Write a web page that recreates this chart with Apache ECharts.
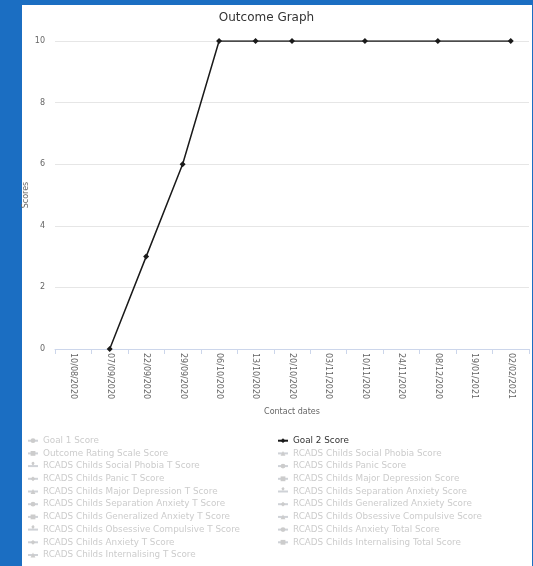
<!DOCTYPE html>
<html>
<head>
<meta charset="utf-8">
<script src="https://cdn.jsdelivr.net/npm/echarts@6/dist/echarts.min.js"></script>
<style>
    body { margin: 0; }
    #wrap { position: relative; width: 533px; height: 566px; background: #1b6ec2; overflow: hidden; }
    #inner { position: absolute; left: 22px; top: 5px; width: 510px; height: 561px; background: #fff; }
    #chart { position: absolute; left: 0; top: 0; width: 533px; height: 566px; }
</style>
</head>
<body>
<div id="wrap">
    <div id="inner"></div>
    <div id="chart"></div>
</div>
<script>
// 日期（类目轴）
const DATES = [
    "10/08/2020", "07/09/2020", "22/09/2020", "29/09/2020", "06/10/2020",
    "13/10/2020", "20/10/2020", "03/11/2020", "10/11/2020", "24/11/2020",
    "08/12/2020", "19/01/2021", "02/02/2021",
]
// 只有 Goal 2 Score 可见
const GOAL2 = [null, 0, 3, 6, 10, 10, 10, null, 10, null, 10, null, 10]
const Y_TICKS = [0, 2, 4, 6, 8, 10]

// 图例左列 / 右列
const LEFT_NAMES = [
    "Goal 1 Score",
    "Outcome Rating Scale Score",
    "RCADS Childs Social Phobia T Score",
    "RCADS Childs Panic T Score",
    "RCADS Childs Major Depression T Score",
    "RCADS Childs Separation Anxiety T Score",
    "RCADS Childs Generalized Anxiety T Score",
    "RCADS Childs Obsessive Compulsive T Score",
    "RCADS Childs Anxiety T Score",
    "RCADS Childs Internalising T Score",
]
const RIGHT_NAMES = [
    "Goal 2 Score",
    "RCADS Childs Social Phobia Score",
    "RCADS Childs Panic Score",
    "RCADS Childs Major Depression Score",
    "RCADS Childs Separation Anxiety Score",
    "RCADS Childs Generalized Anxiety Score",
    "RCADS Childs Obsessive Compulsive Score",
    "RCADS Childs Anxiety Total Score",
    "RCADS Childs Internalising Total Score",
]

const FONT = "DejaVu Sans"
const SYMBOLS = ["circle", "diamond", "rect", "triangle", "pin"]

// 交替排列，跟 legend 顺序一致
const allNames = []
for (let i = 0; i < LEFT_NAMES.length; i++) {
    allNames.push(LEFT_NAMES[i])
    if (RIGHT_NAMES[i]) allNames.push(RIGHT_NAMES[i])
}

const selected = {}
allNames.forEach(n => {
    selected[n] = n === "Goal 2 Score"
})

const series = allNames.map((name, i) => {
    const isGoal2 = name === "Goal 2 Score"
    return {
        name: name,
        type: "line",
        data: isGoal2 ? GOAL2 : [],
        connectNulls: true,
        symbol: isGoal2 ? "diamond" : SYMBOLS[i % SYMBOLS.length],
        symbolSize: 6,
        showSymbol: true,
        lineStyle: { color: "#1a1a1a", width: 1.5 },
        itemStyle: { color: "#1a1a1a" },
        emphasis: { disabled: true },
    }
})

const legendBase = {
    orient: "vertical",
    top: 435.7,
    height: 130,
    padding: 0,
    itemWidth: 10,
    itemHeight: 6,
    itemGap: 2.7,
    inactiveColor: "#cccccc",
    selected: selected,
    textStyle: { fontFamily: FONT, fontSize: 8.8, lineHeight: 10, color: "#333" },
}

const myChart = echarts.init(document.getElementById("chart"))
myChart.setOption({
    animation: false,
    textStyle: { fontFamily: FONT },
    title: {
        text: "Outcome Graph",
        left: "center",
        top: 7,
        textStyle: { fontFamily: FONT, fontSize: 12, fontWeight: "normal", color: "#333" },
    },
    legend: [
        Object.assign({}, legendBase, { left: 27, data: LEFT_NAMES }),
        Object.assign({}, legendBase, { left: 277, data: RIGHT_NAMES }),
    ],
    grid: { left: 55, right: 4, top: 41, bottom: 217 },
    xAxis: {
        type: "category",
        data: DATES,
        boundaryGap: true,
        name: "Contact dates",
        nameLocation: "middle",
        nameGap: 59,
        nameMoveOverlap: false,
        nameTextStyle: { fontFamily: FONT, fontSize: 8, color: "#666" },
        axisLine: { lineStyle: { color: "#ccd6eb" } },
        axisTick: { show: true, length: 5, interval: 0, lineStyle: { color: "#ccd6eb" } },
        axisLabel: { rotate: -90, interval: 0, fontSize: 8, color: "#666", margin: 4 },
    },
    yAxis: {
        type: "value",
        min: Y_TICKS[0],
        max: Y_TICKS[Y_TICKS.length - 1],
        interval: 2,
        name: "Scores",
        nameLocation: "middle",
        nameGap: 25,
        nameMoveOverlap: false,
        nameTextStyle: { fontFamily: FONT, fontSize: 8, color: "#666" },
        axisLine: { show: false },
        axisTick: { show: false },
        axisLabel: { fontSize: 8, color: "#666", margin: 10 },
        splitLine: { lineStyle: { color: "#e6e6e6" } },
    },
    series: series,
})
</script>
</body>
</html>
